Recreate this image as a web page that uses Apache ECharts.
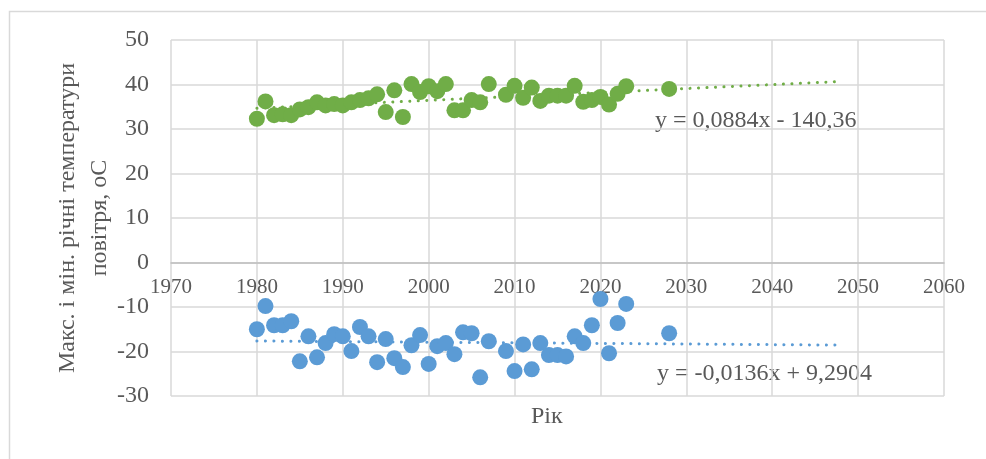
<!DOCTYPE html>
<html><head><meta charset="utf-8">
<script src="https://cdn.jsdelivr.net/npm/echarts@6/dist/echarts.min.js"></script>
<style>html,body{margin:0;padding:0;background:#fff}#c{width:986px;height:459px}</style>
</head><body><div id="c"></div>
<script>
const years = [1980,1981,1982,1983,1984,1985,1986,1987,1988,1989,1990,1991,1992,1993,1994,1995,1996,1997,1998,1999,2000,2001,2002,2003,2004,2005,2006,2007,2009,2010,2011,2012,2013,2014,2015,2016,2017,2018,2019,2020,2021,2022,2023,2028];
const maxTemp = [32.3,36.2,33.1,33.3,33.1,34.4,34.9,36.0,35.3,35.6,35.3,36.0,36.5,36.9,37.8,33.8,38.7,32.7,40.1,38.3,39.6,38.5,40.1,34.2,34.2,36.5,36.0,40.1,37.7,39.7,37.0,39.3,36.3,37.5,37.5,37.5,39.7,36.1,36.5,37.2,35.5,37.9,39.6,39.0];
const minTemp = [-15.0,-9.8,-14.1,-14.1,-13.2,-22.2,-16.6,-21.3,-18.1,-16.1,-16.6,-19.9,-14.5,-16.6,-22.4,-17.2,-21.5,-23.5,-18.6,-16.3,-22.8,-18.8,-18.1,-20.6,-15.7,-15.9,-25.8,-17.7,-19.9,-24.4,-18.4,-24.0,-18.1,-20.8,-20.8,-21.1,-16.6,-18.1,-14.1,-8.2,-20.4,-13.6,-9.3,-15.9];
const trendMax = {slope: 0.0884, intercept: -140.36, label: 'y = 0,0884x - 140,36'};
const trendMin = {slope: -0.0136, intercept: 9.2904, label: 'y = -0,0136x + 9,2904'};
const trendRange = [1980, 2047.6];
const xTicks = [1970, 2060, 10];
const yTicks = [-30, 50, 10];
const xTitle = 'Рік';
const yTitle = 'Макс. і мін. річні температури\nповітря, оС';

const GREEN = '#70AD47', BLUE = '#5B9BD5', TXT = '#595959', GRID = '#D9D9D9';
const SERIF = '"Liberation Serif", "DejaVu Serif", serif';
const trendPts = t => trendRange.map(x => [x, t.slope * x + t.intercept]);
const dotted = c => ({color: c, width: 3, type: [0.1, 8.4], cap: 'round'});

const chart = echarts.init(document.getElementById('c'), null, {renderer: 'canvas'});
chart.setOption({
  animation: false,
  backgroundColor: '#fff',
  textStyle: {fontFamily: SERIF},
  grid: {left: 171, top: 40, right: 42, bottom: 63, containLabel: false},
  xAxis: {
    type: 'value', min: xTicks[0], max: xTicks[1], interval: xTicks[2],
    axisLine: {show: true, onZero: false, lineStyle: {color: '#BFBFBF', width: 1.5}},
    axisTick: {show: false},
    axisLabel: {color: TXT, fontSize: 21, margin: 14, fontFamily: SERIF, formatter: v => String(v)},
    splitLine: {show: true, lineStyle: {color: GRID, width: 1.5}}
  },
  yAxis: {
    type: 'value', min: yTicks[0], max: yTicks[1], interval: yTicks[2],
    axisLine: {show: false, onZero: false},
    axisTick: {show: false},
    axisLabel: {color: TXT, fontSize: 24, margin: 22, fontFamily: SERIF, formatter: v => String(v)},
    splitLine: {show: true, lineStyle: {color: GRID, width: 1.5}},
    name: yTitle, nameLocation: 'middle', nameGap: 55, nameRotate: 90, nameMoveOverlap: false,
    nameTextStyle: {color: TXT, fontSize: 24, lineHeight: 32, fontFamily: SERIF}
  },
  series: [
    {type: 'line', data: trendPts(trendMax), showSymbol: false, symbol: 'none', lineStyle: dotted(GREEN), z: 1, silent: true},
    {type: 'line', data: trendPts(trendMin), showSymbol: false, symbol: 'none', lineStyle: dotted(BLUE), z: 1, silent: true},
    {type: 'scatter', data: years.map((y, i) => [y, maxTemp[i]]), symbolSize: 16, itemStyle: {color: GREEN, opacity: 1}, z: 2},
    {type: 'scatter', data: years.map((y, i) => [y, minTemp[i]]), symbolSize: 16, itemStyle: {color: BLUE, opacity: 1}, z: 2}
  ],
  graphic: [
    {type: 'rect', shape: {x: 9.5, y: 11.5, width: 1000, height: 460}, style: {fill: 'none', stroke: GRID, lineWidth: 1.5}, silent: true, z: -1},
    {type: 'text', left: 655, top: 109, style: {text: trendMax.label, fill: TXT, font: '24px ' + SERIF}},
    {type: 'text', left: 657, top: 362, style: {text: trendMin.label, fill: TXT, font: '24px ' + SERIF}},
    {type: 'text', left: 531, top: 405, style: {text: xTitle, fill: TXT, font: '24px ' + SERIF}}
  ]
});
// Move the x axis (line + labels) up to the y = 0 line, measured through the library's scale
const yZero = chart.convertToPixel({yAxisIndex: 0}, 0);
const yBottom = chart.convertToPixel({yAxisIndex: 0}, yTicks[0]);
chart.setOption({xAxis: {offset: -(yBottom - yZero)}});
</script>
</body></html>
